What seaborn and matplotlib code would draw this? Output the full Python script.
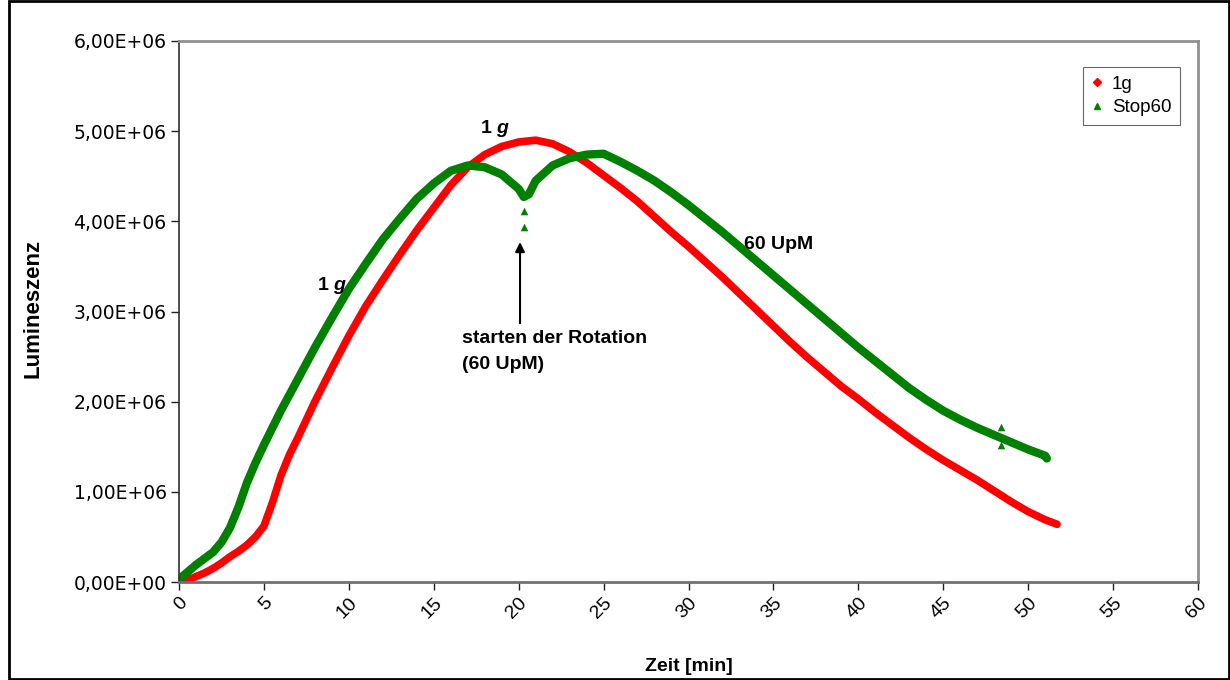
import matplotlib
matplotlib.use("Agg")
import matplotlib.pyplot as plt
from matplotlib.lines import Line2D
from matplotlib.patches import Rectangle
from matplotlib.ticker import FuncFormatter, MultipleLocator
import seaborn as sns
import pandas as pd

# Luminescence over time, 1 g control
t_1g = [0, 0.5, 1, 1.5, 2, 2.5, 3, 3.5, 4, 4.5, 5, 5.5, 6, 6.5, 7, 8, 9, 10,
        11, 12, 13, 14, 15, 16, 17, 18, 19, 20, 21, 22, 23, 24, 25, 26, 27, 28,
        29, 30, 31, 32, 33, 34, 35, 36, 37, 38, 39, 40, 41, 42, 43, 44, 45, 46,
        47, 48, 49, 50, 51, 51.7]
lum_1g = [0.0, 0.02, 0.06, 0.1, 0.15, 0.21, 0.28, 0.34, 0.41, 0.5, 0.62, 0.88,
          1.18, 1.41, 1.6, 2.0, 2.37, 2.73, 3.06, 3.35, 3.63, 3.9, 4.15, 4.4,
          4.6, 4.74, 4.83, 4.88, 4.9, 4.86, 4.77, 4.65, 4.51, 4.37, 4.22, 4.05,
          3.88, 3.72, 3.55, 3.38, 3.2, 3.02, 2.84, 2.66, 2.49, 2.33, 2.17, 2.03,
          1.88, 1.74, 1.6, 1.47, 1.35, 1.24, 1.13, 1.01, 0.89, 0.78, 0.69, 0.64]

# Luminescence over time, rotation started at ~20 min (60 UpM)
t_stop = [0, 0.5, 1, 1.5, 2, 2.5, 3, 3.5, 4, 4.5, 5, 6, 7, 8, 9, 10, 11, 12, 13,
          14, 15, 16, 17, 18, 19, 20, 20.3, 20.6, 21, 22, 23, 24, 25, 26, 27, 28,
          29, 30, 31, 32, 33, 34, 35, 36, 37, 38, 39, 40, 41, 42, 43, 44, 45, 46,
          47, 48, 49, 50, 51, 51.1]
lum_stop = [0.03, 0.11, 0.19, 0.26, 0.33, 0.44, 0.6, 0.83, 1.1, 1.32, 1.52,
            1.9, 2.25, 2.6, 2.93, 3.25, 3.53, 3.8, 4.03, 4.25, 4.42, 4.56, 4.62,
            4.6, 4.52, 4.36, 4.27, 4.3, 4.45, 4.62, 4.7, 4.74, 4.75, 4.66, 4.56,
            4.45, 4.32, 4.18, 4.03, 3.88, 3.72, 3.56, 3.4, 3.24, 3.08, 2.92,
            2.76, 2.6, 2.45, 2.3, 2.15, 2.02, 1.9, 1.8, 1.71, 1.63, 1.55, 1.47,
            1.4, 1.37]

# Single stray readings of the Stop60 series
t_stray = [20.3, 20.3, 48.4, 48.4]
lum_stray = [4.12, 3.94, 1.72, 1.52]

series_names = ["1g", "Stop60"]
colors = {"1g": "#FF0000", "Stop60": "#008000"}
SCALE = 1e6

df_1g = pd.DataFrame({"Zeit": t_1g, "Lum": [v * SCALE for v in lum_1g]})
df_stop = pd.DataFrame({"Zeit": t_stop, "Lum": [v * SCALE for v in lum_stop]})
stray = pd.DataFrame({"Zeit": t_stray, "Lum": [v * SCALE for v in lum_stray]})

sns.set_theme(style="white")
plt.rcParams["font.family"] = ["Liberation Sans", "DejaVu Sans"]
plt.rcParams["text.color"] = "black"
plt.rcParams["axes.labelcolor"] = "black"
plt.rcParams["xtick.color"] = "black"
plt.rcParams["ytick.color"] = "black"
plt.rcParams["mathtext.fontset"] = "custom"
plt.rcParams["mathtext.rm"] = "Liberation Sans"
plt.rcParams["mathtext.bf"] = "Liberation Sans:bold"
plt.rcParams["mathtext.it"] = "Liberation Sans:italic"
plt.rcParams["mathtext.bfit"] = "Liberation Sans:bold:italic"

fig = plt.figure(figsize=(12.3, 6.8), dpi=100)
ax = fig.add_axes([179 / 1230, 1 - 582 / 680, (1198 - 179) / 1230, (582 - 41) / 680])

sns.lineplot(data=df_1g, x="Zeit", y="Lum", color=colors["1g"], linewidth=5.5,
             sort=False, ax=ax, solid_capstyle="round", solid_joinstyle="round")
sns.lineplot(data=df_stop, x="Zeit", y="Lum", color=colors["Stop60"], linewidth=6,
             sort=False, ax=ax, solid_capstyle="round", solid_joinstyle="round")
sns.scatterplot(data=stray, x="Zeit", y="Lum", marker="^", color=colors["Stop60"],
                s=30, linewidth=0, ax=ax, legend=False, zorder=3)

ax.set_xlim(0, 60)
ax.set_ylim(0, 6e6)
ax.xaxis.set_major_locator(MultipleLocator(5))
ax.yaxis.set_major_locator(MultipleLocator(1e6))


def sci_comma(v, pos):
    if v == 0:
        return "0,00E+00"
    exp = int(f"{v:.2E}".split("E")[1])
    mant = v / 10 ** exp
    return f"{mant:.2f}".replace(".", ",") + f"E+{exp:02d}"


ax.yaxis.set_major_formatter(FuncFormatter(sci_comma))
ax.tick_params(axis="both", which="major", direction="out", length=6, width=1,
               color="#202020", bottom=True, left=True)
ax.tick_params(axis="x", pad=3, labelsize=14)
ax.tick_params(axis="y", pad=3, labelsize=13.5)
for lbl in ax.get_yticklabels():
    lbl.set_family(["DejaVu Sans"])
for lbl in ax.get_xticklabels():
    lbl.set_rotation(45)
    lbl.set_ha("right")
    lbl.set_rotation_mode("anchor")

ax.set_xlabel("Zeit [min]", fontsize=14, fontweight="bold")
ax.set_ylabel("Lumineszenz", fontsize=16, fontweight="bold")
ax.xaxis.set_label_coords(0.5, -0.14)
ax.yaxis.set_label_coords(-0.133, 0.506)

for side in ["top", "right"]:
    ax.spines[side].set_color("#909090")
    ax.spines[side].set_linewidth(2)
ax.spines["left"].set_color("#303030")
ax.spines["left"].set_linewidth(1.2)
ax.spines["bottom"].set_color("#707070")
ax.spines["bottom"].set_linewidth(2)

# Annotations
ax.text(18.6, 5.03e6, r"1 $\mathbfit{g}$", fontsize=14, fontweight="bold",
        ha="center", va="center")
ax.text(9.0, 3.29e6, r"1 $\mathbfit{g}$", fontsize=14, fontweight="bold",
        ha="center", va="center")
ax.text(35.3, 3.74e6, "60 UpM", fontsize=14, fontweight="bold",
        ha="center", va="center")
ax.annotate("", xy=(20.08, 3.77e6), xytext=(20.08, 2.87e6),
            arrowprops=dict(arrowstyle="-|>", color="black", lw=1.5,
                            mutation_scale=14, shrinkA=0, shrinkB=0))
ax.text(16.67, 2.705e6, "starten der Rotation", fontsize=14,
        fontweight="bold", ha="left", va="center")
ax.text(16.67, 2.41e6, "(60 UpM)", fontsize=14,
        fontweight="bold", ha="left", va="center")

handles = [
    Line2D([], [], marker="D", color=colors["1g"], linestyle="", markersize=4.5),
    Line2D([], [], marker="^", color=colors["Stop60"], linestyle="", markersize=5),
]
leg = ax.legend(handles, series_names, loc="upper right",
                bbox_to_anchor=(0.982, 0.952), fontsize=13.5, frameon=True,
                fancybox=False, edgecolor="#404040", handlelength=0.6,
                handletextpad=0.5, borderpad=0.45, labelspacing=0.35,
                borderaxespad=0)
leg.get_frame().set_linewidth(0.8)

# Outer chart frame
fig.patches.append(Rectangle((9 / 1230, 1 / 680), 1 - 10 / 1230, 1 - 2 / 680,
                             transform=fig.transFigure, fill=False,
                             edgecolor="black", linewidth=2))

fig.savefig("out.png", dpi=100)
